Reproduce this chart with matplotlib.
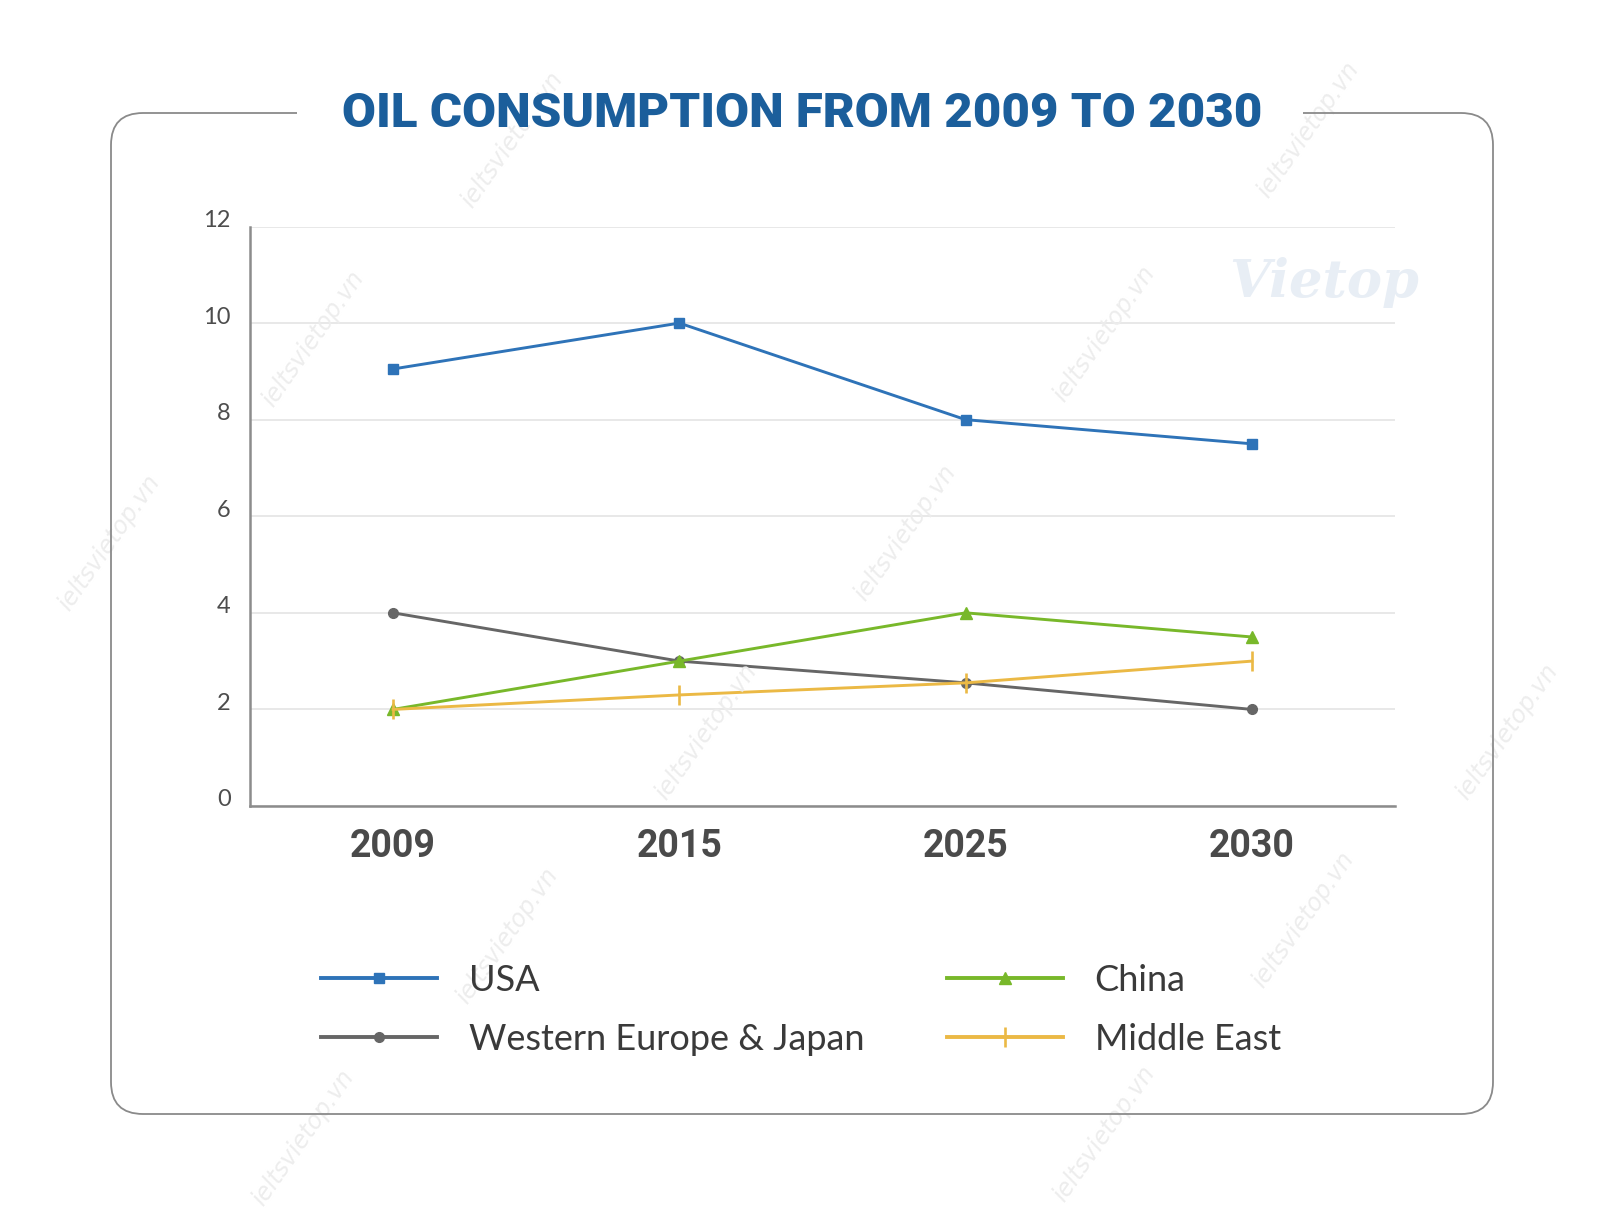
import matplotlib
matplotlib.use("Agg")
import matplotlib.pyplot as plt
import matplotlib.patches as patches
import matplotlib.transforms as mtransforms

# data
years = ["2009", "2015", "2025", "2030"]
usa = [9.05, 10.0, 8.0, 7.5]
weurope_japan = [4.0, 3.0, 2.55, 2.0]
china = [2.0, 3.0, 4.0, 3.5]
middle_east = [2.0, 2.3, 2.55, 3.0]
y_ticks = [0, 2, 4, 6, 8, 10, 12]

W, H = 1600, 1226
fig = plt.figure(figsize=(W / 100, H / 100), dpi=100)
fig.patch.set_facecolor("white")


def fx(x):
    return x / W


def fy(y):
    return 1 - y / H


# faint watermarks
wm_pos = [(512, 140), (313, 339), (109, 543), (1104, 334), (905, 533), (706, 732),
          (1308, 130), (1507, 732), (507, 936), (1303, 920), (303, 1138), (1104, 1134)]
for (x, y) in wm_pos:
    fig.text(fx(x), fy(y), "ieltsvietop.vn", rotation=55, fontsize=17, color="#ededed",
             style="italic", ha="center", va="center", zorder=0)
fig.text(fx(1324), fy(282), "Vietop", fontsize=38, color="#e8eef5", style="italic",
         fontweight="bold", family="DejaVu Serif", ha="center", va="center", zorder=0)

# rounded frame with a gap for the title
frame = patches.FancyBboxPatch((fx(111), fy(1114)), fx(1493) - fx(111), fy(113) - fy(1114),
                               boxstyle="round,pad=0,rounding_size=0.02",
                               transform=fig.transFigure, facecolor="none",
                               edgecolor="#8a8a8a", linewidth=1.3, zorder=1,
                               mutation_aspect=W / H)
fig.patches.append(frame)
gap = patches.Rectangle((fx(297), fy(125)), fx(1303) - fx(297), fy(100) - fy(125),
                        transform=fig.transFigure, facecolor="white", edgecolor="none", zorder=2)
fig.patches.append(gap)

fig.text(fx(802), fy(114), "OIL CONSUMPTION FROM 2009 TO 2030", fontsize=35.5,
         family="Roboto", fontweight="heavy", color="#1b5e9b", ha="center", va="center", zorder=3)

ax = fig.add_axes([fx(250), fy(806), fx(1395) - fx(250), fy(226.5) - fy(806)])
ax.patch.set_alpha(0)
x = list(range(len(years)))

ax.plot(x, usa, color="#2e73b8", lw=2.1, marker="s", ms=7, zorder=4, label="USA")
ax.plot(x, weurope_japan, color="#666666", lw=2.1, marker="o", ms=7, zorder=3,
        label="Western Europe & Japan")
ax.plot(x, china, color="#78b82a", lw=2.1, marker="^", ms=9, zorder=4, label="China")
ax.plot(x, middle_east, color="#ebb945", lw=2.1, marker="|", ms=14, mew=1.9, zorder=5,
        label="Middle East")

ax.set_xlim(-0.5, 3.5)
ax.set_ylim(0, 12)
ax.set_yticks(y_ticks)
ax.set_yticklabels([str(v) for v in y_ticks], fontsize=17, color="#4d4d4d", family="Lato")
ax.grid(axis="y", color="#e4e4e4", linewidth=1.2)
ax.set_axisbelow(True)
for s in ["top", "right"]:
    ax.spines[s].set_visible(False)
for s in ["left", "bottom"]:
    ax.spines[s].set_color("#8c8c8c")
    ax.spines[s].set_linewidth(1.8)
ax.tick_params(length=0, pad=14)
for lab in ax.get_yticklabels():
    lab.set_transform(lab.get_transform() + mtransforms.ScaledTranslation(0, 0.08, fig.dpi_scale_trans))

ax.set_xticks(x)
ax.set_xticklabels(years, fontsize=27, family="Roboto", fontweight="bold", color="#4a4a4a")
x_shift = [-0.05, -0.06, -0.06, -0.01]
y_shift = [0, 0, 0, -0.06]
for lab, dx, dy in zip(ax.get_xticklabels(), x_shift, y_shift):
    lab.set_transform(lab.get_transform() + mtransforms.ScaledTranslation(dx, dy, fig.dpi_scale_trans))
ax.tick_params(axis="x", pad=16)

handles, labels = ax.get_legend_handles_labels()
leg = fig.legend(handles, labels, ncol=2,
                 loc="center", bbox_to_anchor=(fx(801), fy(1010)), frameon=False,
                 prop={"family": "Lato", "size": 26}, handlelength=3.2,
                 handletextpad=0.88, columnspacing=2.3, labelspacing=0.72,
                 labelcolor="#3a3a3a")
for ln in leg.get_lines():
    ln.set_linewidth(2.8)

fig.savefig("out.png", dpi=100, facecolor="white")
